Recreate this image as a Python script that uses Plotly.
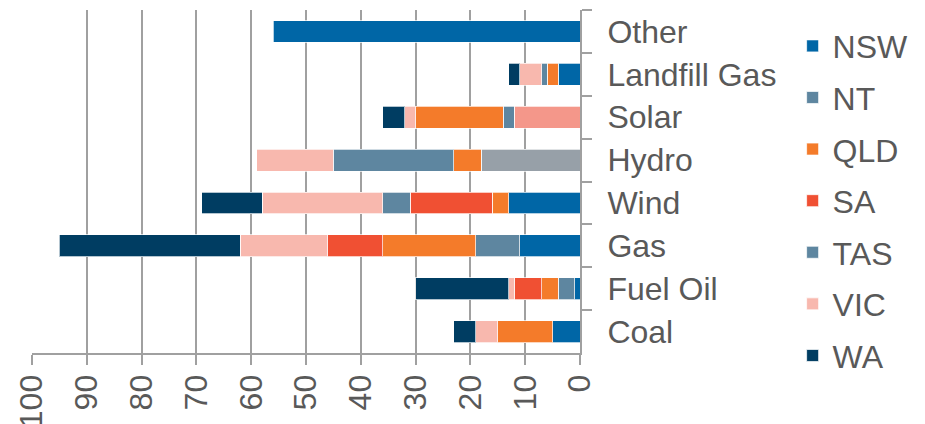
import plotly.graph_objects as go

categories = ["Other", "Landfill Gas", "Solar", "Hydro", "Wind", "Gas", "Fuel Oil", "Coal"]
states = ["NSW", "NT", "QLD", "SA", "TAS", "VIC", "WA"]

nsw = [56, 4, 12, 18, 13, 11, 1, 5]
nt = [0, 0, 2, 0, 0, 8, 3, 0]
qld = [0, 2, 16, 5, 3, 17, 3, 10]
sa = [0, 0, 0, 0, 15, 10, 5, 0]
tas = [0, 1, 0, 22, 5, 0, 0, 0]
vic = [0, 4, 2, 14, 22, 16, 1, 4]
wa = [0, 2, 4, 0, 11, 33, 17, 4]

series = [nsw, nt, qld, sa, tas, vic, wa]
colors = ["#0066A6", "#5E86A0", "#F47B2A", "#F05033", "#5E86A0", "#F8B8AE", "#003D62"]
# per-point colour overrides seen in the original (NSW segment of Solar and Hydro)
nsw_overrides = {"Solar": "#F4978A", "Hydro": "#97A0A8"}

FONT = "Liberation Sans, Arial, sans-serif"
TXT = "#595959"
GRID = "#A0A0A0"
FS = 32

fig = go.Figure()
for i, (name, vals, col) in enumerate(zip(states, series, colors)):
    ptcols = [col] * len(categories)
    if name == "NSW":
        ptcols = [nsw_overrides.get(c, col) for c in categories]
    fig.add_trace(go.Bar(
        y=categories,
        x=[v if v else None for v in vals],
        name=name,
        orientation="h",
        legendgroup=name,
        marker=dict(color=ptcols, line=dict(color="rgba(255,255,255,0.7)", width=1)),
    ))

fig.update_layout(
    barmode="stack",
    bargap=0.49,
    width=925, height=424,
    margin=dict(l=32, r=345, t=10, b=71, autoexpand=False),
    paper_bgcolor="white", plot_bgcolor="white",
    font=dict(family=FONT, size=FS, color=TXT),
    showlegend=True,
    legend=dict(
        x=1.388, xanchor="left", y=0.975, yanchor="top",
        traceorder="grouped", tracegroupgap=7,
        maxheight=424,
        font=dict(family=FONT, size=FS, color=TXT),
        bgcolor="rgba(0,0,0,0)",
    ),
)
fig.update_xaxes(
    range=[100, 0], dtick=10, tick0=0,
    showgrid=True, gridcolor=GRID, gridwidth=1.5,
    showline=True, linecolor=GRID, linewidth=2,
    ticks="outside", ticklen=10, tickcolor=GRID, tickwidth=2,
    tickangle=-90, ticklabelstandoff=-3,
    zeroline=False, automargin=False,
    tickfont=dict(family=FONT, size=FS, color=TXT),
)
fig.update_yaxes(
    categoryorder="array", categoryarray=categories, autorange="reversed",
    side="right",
    showgrid=False,
    showline=True, linecolor=GRID, linewidth=2,
    ticks="outside", ticklen=10, tickcolor=GRID, tickwidth=2,
    tickson="boundaries", ticklabelstandoff=19,
    automargin=False,
    tickfont=dict(family=FONT, size=FS, color=TXT),
)

fig.write_html("out.html")
